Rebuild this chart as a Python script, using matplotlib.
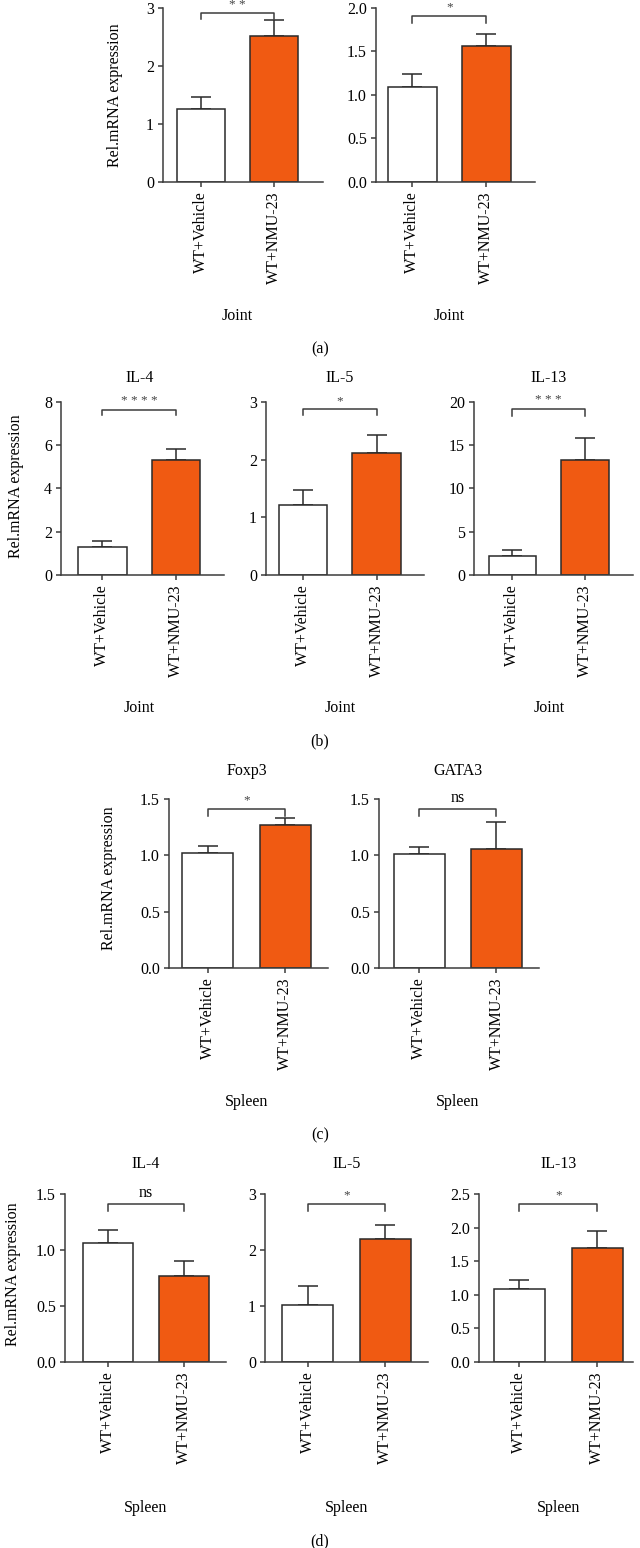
import matplotlib
matplotlib.use('Agg')
import matplotlib.pyplot as plt
import matplotlib.transforms as mtransforms

plt.rcParams['font.family'] = ['Liberation Serif', 'DejaVu Serif']

groups = ['WT+Vehicle', 'WT+NMU-23']

# ---- data ----
a1_vals = [1.26, 2.52]; a1_err = [0.20, 0.27]; a1_ticks = [0, 1, 2, 3]; a1_labels = ['0', '1', '2', '3']
a2_vals = [1.09, 1.555]; a2_err = [0.145, 0.145]; a2_ticks = [0, 0.5, 1.0, 1.5, 2.0]; a2_labels = ['0.0', '0.5', '1.0', '1.5', '2.0']
b1_vals = [1.31, 5.34]; b1_err = [0.27, 0.48]; b1_ticks = [0, 2, 4, 6, 8]; b1_labels = ['0', '2', '4', '6', '8']
b2_vals = [1.21, 2.12]; b2_err = [0.26, 0.31]; b2_ticks = [0, 1, 2, 3]; b2_labels = ['0', '1', '2', '3']
b3_vals = [2.24, 13.3]; b3_err = [0.66, 2.5]; b3_ticks = [0, 5, 10, 15, 20]; b3_labels = ['0', '5', '10', '15', '20']
c1_vals = [1.025, 1.271]; c1_err = [0.059, 0.057]; c1_ticks = [0, 0.5, 1.0, 1.5]; c1_labels = ['0.0', '0.5', '1.0', '1.5']
c2_vals = [1.016, 1.054]; c2_err = [0.056, 0.244]; c2_ticks = [0, 0.5, 1.0, 1.5]; c2_labels = ['0.0', '0.5', '1.0', '1.5']
d1_vals = [1.065, 0.77]; d1_err = [0.111, 0.135]; d1_ticks = [0, 0.5, 1.0, 1.5]; d1_labels = ['0.0', '0.5', '1.0', '1.5']
d2_vals = [1.01, 2.19]; d2_err = [0.35, 0.255]; d2_ticks = [0, 1, 2, 3]; d2_labels = ['0', '1', '2', '3']
d3_vals = [1.08, 1.70]; d3_err = [0.14, 0.25]; d3_ticks = [0, 0.5, 1.0, 1.5, 2.0, 2.5]; d3_labels = ['0.0', '0.5', '1.0', '1.5', '2.0', '2.5']

titles_b = ['IL-4', 'IL-5', 'IL-13']
titles_c = ['Foxp3', 'GATA3']
titles_d = ['IL-4', 'IL-5', 'IL-13']
sig = {'a1': '* *', 'a2': '*', 'b1': '* * * *', 'b2': '*', 'b3': '* * *',
       'c1': '*', 'c2': 'ns', 'd1': 'ns', 'd2': '*', 'd3': '*'}
bracket = {'a1': (2.91, 2.81), 'a2': (1.90, 1.82), 'b1': (7.65, 7.40), 'b2': (2.87, 2.77),
           'b3': (19.2, 18.4), 'c1': (1.41, 1.345), 'c2': (1.41, 1.345), 'd1': (1.41, 1.35),
           'd2': (2.82, 2.70), 'd3': (2.355, 2.25)}

ORANGE = '#F05A12'
EDGE = '#2a2a2a'
AXC = '#3c3c3c'
FS = 11.5

W, H = 640, 1548
fig = plt.figure(figsize=(W / 100, H / 100), dpi=100)


def make(key, vals, err, ticks, tlabels, x0, x1, ytop, ybot, xlo, xhi,
         title=None, title_y=None, xlab='Joint', xlab_y=None):
    ax = fig.add_axes([x0 / W, 1 - ybot / H, (x1 - x0) / W, (ybot - ytop) / H])
    xs = [0, 1]
    ax.bar(xs, vals, width=0.66, color=['white', ORANGE], edgecolor=EDGE,
           linewidth=1.1, zorder=2)
    ax.errorbar(xs, vals, yerr=[[0, 0], err], fmt='none', ecolor=EDGE,
                elinewidth=1.1, capsize=7.5, capthick=1.1, zorder=1)
    ax.set_xlim(xlo, xhi)
    ax.set_ylim(0, ticks[-1])
    ax.set_yticks(ticks)
    ax.set_yticklabels(tlabels, fontsize=FS)
    ax.set_xticks(xs)
    ax.set_xticklabels(groups, rotation=90, fontsize=FS)
    for s in ['top', 'right']:
        ax.spines[s].set_visible(False)
    for s in ['left', 'bottom']:
        ax.spines[s].set_color(AXC)
        ax.spines[s].set_linewidth(1.1)
    ax.tick_params(axis='both', length=3.5, width=1.1, color=AXC, pad=3)
    # significance bracket
    by, bd = bracket[key]
    ax.plot([0, 0, 1, 1], [bd, by, by, bd], color=AXC, lw=1.1, clip_on=False)
    lab = sig[key]
    if lab == 'ns':
        ax.annotate(lab, xy=(0.5, by), xytext=(0, 5), textcoords='offset points',
                    ha='center', va='baseline', fontsize=FS, annotation_clip=False)
    else:
        ax.annotate(lab, xy=(0.5, by), xytext=(0, 4), textcoords='offset points',
                    ha='center', va='baseline', fontsize=9.5, color='#444444',
                    annotation_clip=False)
    tr = mtransforms.blended_transform_factory(ax.transData, ax.transAxes)
    if title is not None:
        ax.text(0.5, (ybot - title_y) / (ybot - ytop), title, transform=tr,
                ha='center', va='center', fontsize=FS)
    ax.text(0.5, (ybot - xlab_y) / (ybot - ytop), xlab, transform=tr,
            ha='center', va='center', fontsize=FS)
    return ax


# (a)
make('a1', a1_vals, a1_err, a1_ticks, a1_labels, 163, 323, 8, 182, -0.52, 1.67, xlab_y=316)
make('a2', a2_vals, a2_err, a2_ticks, a2_labels, 376, 535, 7.5, 182, -0.49, 1.66, xlab_y=316)
# (b)
make('b1', b1_vals, b1_err, b1_ticks, b1_labels, 61, 224, 402, 575, -0.56, 1.65, titles_b[0], 378, 'Joint', 708)
make('b2', b2_vals, b2_err, b2_ticks, b2_labels, 266, 424, 402, 575, -0.50, 1.64, titles_b[1], 378, 'Joint', 708)
make('b3', b3_vals, b3_err, b3_ticks, b3_labels, 474, 633, 402, 575, -0.53, 1.66, titles_b[2], 378, 'Joint', 708)
# (c)
make('c1', c1_vals, c1_err, c1_ticks, c1_labels, 169, 328, 799, 968, -0.50, 1.55, titles_c[0], 771, 'Spleen', 1102)
make('c2', c2_vals, c2_err, c2_ticks, c2_labels, 379, 539, 799, 968, -0.52, 1.55, titles_c[1], 771, 'Spleen', 1102)
# (d)
make('d1', d1_vals, d1_err, d1_ticks, d1_labels, 65, 226, 1194, 1362, -0.56, 1.55, titles_d[0], 1164, 'Spleen', 1508)
make('d2', d2_vals, d2_err, d2_ticks, d2_labels, 265, 428, 1194, 1362, -0.55, 1.55, titles_d[1], 1164, 'Spleen', 1508)
make('d3', d3_vals, d3_err, d3_ticks, d3_labels, 479, 633, 1194, 1362, -0.52, 1.46, titles_d[2], 1164, 'Spleen', 1508)

# y labels
for (xp, yp) in [(115, 95), (16, 486), (109, 878), (13, 1274)]:
    fig.text(xp / W, 1 - yp / H, 'Rel.mRNA expression', rotation=90,
             ha='center', va='center', fontsize=FS)

# panel letters
for lab, yp in [('(a)', 349), ('(b)', 741), ('(c)', 1135), ('(d)', 1541)]:
    fig.text(320 / W, 1 - yp / H, lab, ha='center', va='center', fontsize=FS)

fig.savefig('out.png', dpi=100, facecolor='white')
